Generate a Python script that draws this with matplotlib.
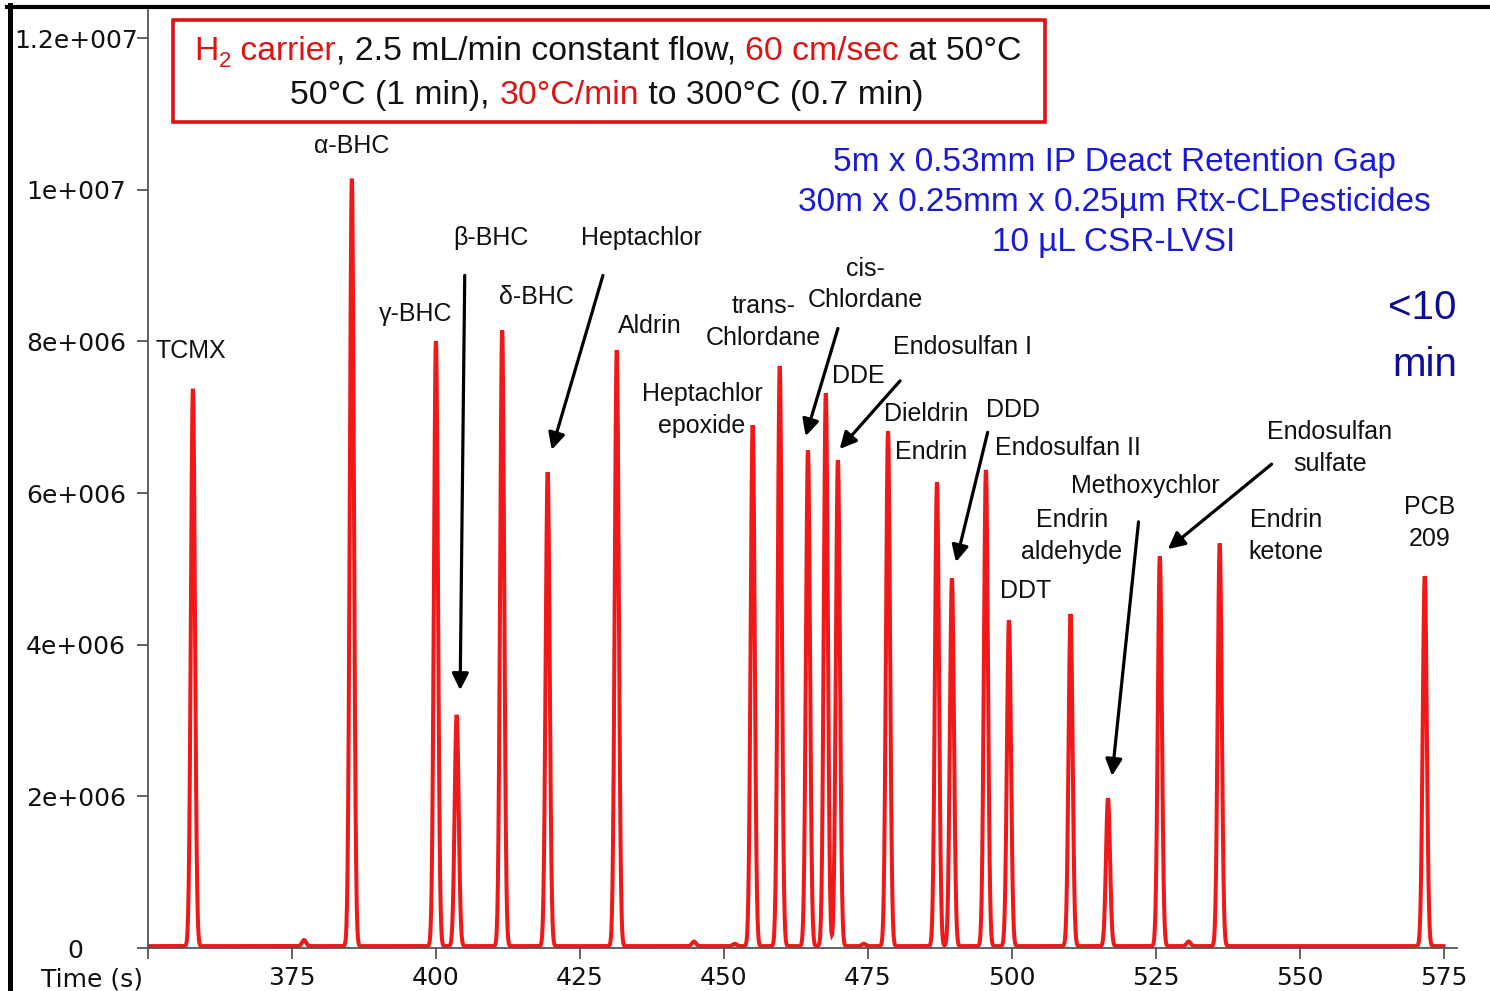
import numpy as np
import matplotlib
matplotlib.use("Agg")
import matplotlib.pyplot as plt
from matplotlib.patches import Rectangle
from matplotlib.lines import Line2D

W, H, DPI = 1490, 991, 100

# ---------------- data ----------------
peak_times = [357.8, 385.4, 400.0, 403.6, 411.5, 419.4, 431.4, 455.0, 459.7,
              464.6, 467.7, 469.8, 478.5, 487.0, 489.6, 495.5, 499.5, 510.2,
              516.7, 525.7, 536.1, 571.7]
peak_heights = [7.35, 10.12, 7.98, 3.05, 8.12, 6.25, 7.86, 6.87, 7.65,
                6.54, 7.29, 6.41, 6.79, 6.12, 4.85, 6.28, 4.30, 4.38,
                1.95, 5.14, 5.31, 4.88]          # x 1e6
minor_times = [377.1, 444.8, 451.9, 474.3, 530.7]
minor_heights = [0.08, 0.06, 0.03, 0.03, 0.06]   # x 1e6
baseline_level = 0.025                           # x 1e6
peak_sigma = 0.35                                # s

x_ticks = [350, 375, 400, 425, 450, 475, 500, 525, 550, 575]
x_ticklabels = ["", "375", "400", "425", "450", "475", "500", "525", "550", "575"]
y_ticks = [0, 2e6, 4e6, 6e6, 8e6, 1e7, 1.2e7]
y_ticklabels = ["0", "2e+006", "4e+006", "6e+006", "8e+006", "1e+007", "1.2e+007"]

# labels: (text, time, value[1e6])
labels = [
    ("TCMX", 357.5, 7.87),
    ("α-BHC", 385.4, 10.57),
    ("γ-BHC", 396.4, 8.36),
    ("β-BHC", 409.5, 9.36),
    ("δ-BHC", 417.4, 8.58),
    ("Heptachlor", 435.6, 9.36),
    ("Aldrin", 437.2, 8.20),
    ("Heptachlor\nepoxide", 446.2, 7.09),
    ("trans-\nChlordane", 456.9, 8.26),
    ("cis-\nChlordane", 474.5, 8.75),
    ("DDE", 473.3, 7.54),
    ("Endosulfan I", 491.5, 7.92),
    ("Dieldrin", 485.1, 7.04),
    ("Endrin", 485.9, 6.54),
    ("DDD", 500.2, 7.09),
    ("Endosulfan II", 509.7, 6.59),
    ("Methoxychlor", 523.1, 6.09),
    ("Endrin\naldehyde", 510.4, 5.43),
    ("DDT", 502.4, 4.71),
    ("Endosulfan\nsulfate", 555.2, 6.60),
    ("Endrin\nketone", 547.6, 5.43),
    ("PCB\n209", 572.6, 5.60),
]
# arrows: (tail time, tail value, head time, head value)
arrows = [
    (405.0, 8.87, 404.2, 3.40),
    (429.0, 8.87, 420.1, 6.57),
    (469.8, 8.17, 464.2, 6.75),
    (480.6, 7.48, 470.1, 6.58),
    (495.8, 6.80, 490.3, 5.09),
    (522.0, 5.62, 517.4, 2.27),
    (545.1, 6.38, 527.1, 5.26),
]

RED = "#f01818"
TXT = "#111111"
AX = "#555555"

# ---------------- trace ----------------
t = np.arange(350.0, 575.0, 0.05)
sig = np.full_like(t, baseline_level)
for t0, h in zip(peak_times + minor_times, peak_heights + minor_heights):
    sig += h * np.exp(-0.5 * ((t - t0) / peak_sigma) ** 2)

fig = plt.figure(figsize=(W / DPI, H / DPI), dpi=DPI)
fig.patch.set_facecolor("white")
ax = fig.add_axes([148 / W, 1 - 948 / H, (1457 - 148) / W, (948 - 10) / H])
ax.plot(t, sig * 1e6, color=RED, lw=2.9, solid_joinstyle="miter")
ax.set_xlim(350, 577.3)
ax.set_ylim(0, 12.37e6)

for s in ("top", "right"):
    ax.spines[s].set_visible(False)
for s in ("left", "bottom"):
    ax.spines[s].set_color(AX)
    ax.spines[s].set_linewidth(1.3)

ax.set_xticks(x_ticks)
ax.set_xticklabels(x_ticklabels)
ax.set_yticks(y_ticks)
ax.set_yticklabels(y_ticklabels)
ax.tick_params(axis="x", direction="out", length=8, width=1.3, color=AX,
               labelsize=18, labelcolor=TXT, pad=5)
ax.tick_params(axis="y", direction="out", length=8, width=1.3, color=AX,
               labelsize=18, labelcolor=TXT, pad=44)
for lab in ax.get_yticklabels():
    lab.set_horizontalalignment("center")

fig.text(92 / W, 1 - 979 / H, "Time (s)", fontsize=18, color=TXT,
         ha="center", va="center")

# annotations
for txt, tx, ty in labels:
    ax.text(tx, ty * 1e6, txt, fontsize=18, family="Liberation Sans",
            color=TXT, ha="center", va="center", linespacing=1.42)
for x0, y0, x1, y1 in arrows:
    ax.annotate("", xy=(x1, y1 * 1e6), xytext=(x0, y0 * 1e6),
                arrowprops=dict(arrowstyle="-|>", color="black", lw=2.3,
                                mutation_scale=25, shrinkA=0, shrinkB=0))

# blue text
BLUE = "#1a1ad6"
NAVY = "#0c0c96"
for line, yy in (("5m x 0.53mm IP Deact Retention Gap", 163),
                 ("30m x 0.25mm x 0.25µm Rtx-CLPesticides", 203),
                 ("10 µL CSR-LVSI", 243)):
    fig.text(1114 / W, 1 - yy / H, line, fontsize=24, family="Liberation Sans",
             color=BLUE, ha="center", va="center")
fig.text(1457 / W, 1 - 308 / H, "<10", fontsize=29, family="Liberation Sans",
         color=NAVY, ha="right", va="center")
fig.text(1457 / W, 1 - 365 / H, "min", fontsize=29, family="Liberation Sans",
         color=NAVY, ha="right", va="center")

# title box
TRED = "#dd1414"
fig.add_artist(Rectangle((173 / W, 1 - 122 / H), (1045 - 173) / W, 102 / H,
                         transform=fig.transFigure, facecolor="white",
                         edgecolor=TRED, lw=2.6, zorder=3))

renderer = fig.canvas.get_renderer()


def seg_width(s, size):
    a = fig.text(0, 0, "|" + s + "|", fontsize=size, family="Liberation Sans")
    b = fig.text(0, 0, "||", fontsize=size, family="Liberation Sans")
    w = a.get_window_extent(renderer).width - b.get_window_extent(renderer).width
    a.remove()
    b.remove()
    return w


def rich_line(segments, cx, baseline_y):
    widths = [seg_width(s, sz) for s, c, sz, dy in segments]
    x = cx - sum(widths) / 2
    for (s, c, sz, dy), w in zip(segments, widths):
        fig.text(x / W, 1 - (baseline_y + dy) / H, s, fontsize=sz,
                 family="Liberation Sans", color=c, ha="left", va="baseline",
                 zorder=4)
        x += w


TS = 24.3
rich_line([("H", TRED, TS, 0), ("2", TRED, 16, 7), (" carrier", TRED, TS, 0),
           (", 2.5 mL/min constant flow, ", TXT, TS, 0),
           ("60 cm/sec", TRED, TS, 0), (" at 50°C", TXT, TS, 0)], 608, 60)
rich_line([("50°C (1 min), ", TXT, TS, 0), ("30°C/min", TRED, TS, 0),
           (" to 300°C (0.7 min)", TXT, TS, 0)], 607, 104)

# outer frame lines
fig.add_artist(Line2D([9.5 / W, 9.5 / W], [0, 1 - 5 / H], color="black",
                      lw=3.6, transform=fig.transFigure, zorder=5))
fig.add_artist(Line2D([7 / W, 1], [1 - 7 / H, 1 - 7 / H], color="black",
                      lw=3.0, transform=fig.transFigure, zorder=5))

fig.savefig("out.png", dpi=DPI, facecolor="white")
